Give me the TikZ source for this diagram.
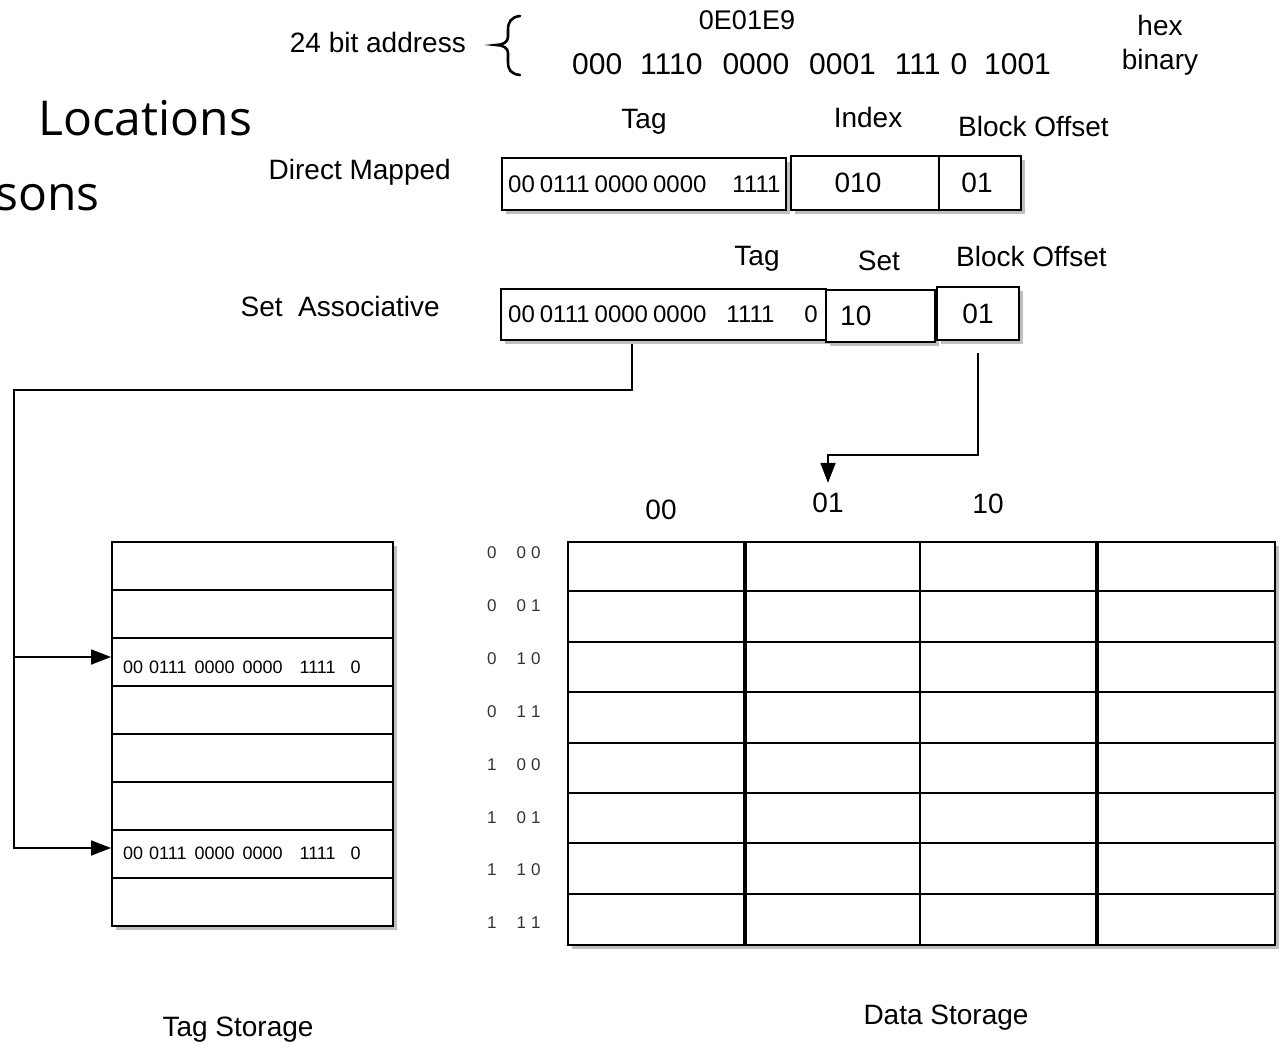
\documentclass[tikz,border=0pt]{standalone}
\usepackage{fontspec}
\setmainfont{Liberation Sans}
\newfontfamily\comicf{Open Sans}
\usetikzlibrary{arrows.meta,shadows,calc}
\newcommand\fs[1]{\fontsize{#1}{#1}\selectfont}
\begin{document}
\begin{tikzpicture}[x=1pt,y=-1pt,
 lbl/.style={inner sep=0pt, font=\fs{28}},
 bin/.style={inner sep=0pt, font=\fs{30}},
 small/.style={inner sep=0pt, font=\fs{24}, anchor=west},
 tiny/.style={inner sep=0pt, font=\fs{18}, anchor=west},
 rowlbl/.style={inner sep=0pt, font=\fs{17}, anchor=west, text=black!80},
 box/.style={draw, line width=2pt, inner sep=0pt, fill=white,
   drop shadow={shadow xshift=4pt, shadow yshift=-4pt, opacity=0.25, fill=black}},
 cell/.style={draw, line width=2pt, inner sep=0pt},
 conn/.style={line width=1.8pt},
 tip/.style={-{Triangle[length=20pt,width=15pt]}}
]
\useasboundingbox (0,0) rectangle (1282,1048);

% left slide text
\node[inner sep=0pt, anchor=west, font=\comicf\fs{48}] (loc) at (38,118) {Locations};
\node[inner sep=0pt, anchor=east, font=\comicf\fs{48}] (sons) at (100,198) {sons};

% address header
\node[lbl, anchor=east] (addr) at (466,42) {24 bit address};
\draw[line width=2.6pt, line cap=round]
  (520,16) .. controls (511,17) and (508,22) .. (508,30) -- (508,37)
  .. controls (508,42) and (503,45) .. (496,45)
  .. controls (503,45) and (508,48) .. (508,53) -- (508,62)
  .. controls (508,70) and (511,74) .. (520,75);
\node[inner sep=0pt, font=\fs{27}] (hexval) at (747,20) {0E01E9};
\node[bin, anchor=west] (binval) at (572,64) {000\hspace{18pt}1110\hspace{20pt}0000\hspace{20pt}0001\hspace{19pt}111\hspace{10pt}0\hspace{17pt}1001};
\node[lbl] (hex) at (1160,25) {hex};
\node[lbl] (binary) at (1160,62) {binary};

% direct mapped
\node[lbl] (dmtaglbl) at (644,122) {Tag};
\node[lbl] (dmidxlbl) at (868,117) {Index};
\node[lbl, anchor=west] (dmofflbl) at (958,126) {Block Offset};
\node[lbl, anchor=east] (dmlbl) at (451,172) {Direct Mapped};
\node[box, minimum width=284, minimum height=52] (dmtag) at (644,184) {};
\node[box, minimum width=148, minimum height=54, font=\fs{28}] (dmidx) at (865,183) {\hspace{-14pt}010};
\node[box, minimum width=82, minimum height=54, font=\fs{28}] (dmoff) at (980,183) {\hspace{-6pt}01};
\node[small] (dmtagtxt) at (508,184) {00\hspace{5pt}0111\hspace{5pt}0000\hspace{5pt}0000\hspace{26pt}1111};

% set associative
\node[lbl] (satagl) at (757,259) {Tag};
\node[lbl] (sasetl) at (879,261) {Set};
\node[lbl, anchor=west] (saoffl) at (956,256) {Block Offset};
\node[lbl, anchor=east] (salbl) at (440,306) {Set\ \ Associative};
\node[box, minimum width=325, minimum height=51] (satag) at (663.5,314.5) {};
\node[box, minimum width=109, minimum height=52] (saset) at (880.5,316) {};
\node[box, minimum width=82, minimum height=53, font=\fs{28}] (saoff) at (978,313.5) {01};
\node[small] (satagtxt) at (508,314) {00\hspace{5pt}0111\hspace{5pt}0000\hspace{5pt}0000\hspace{20pt}1111\hspace{30pt}0};
\node[lbl, anchor=west] (sasettxt) at (840,316) {10};

% tag storage
\node[box, minimum width=281, minimum height=384] (tagst) at (252.5,734) {};
\foreach \i in {1,...,8} {
  \node[cell, minimum width=281, minimum height=48] (ts\i) at (252.5,{566+48*(\i-1)}) {};
}
\node[tiny] (ts3txt) at (123,667) {00\hspace{6pt}0111\hspace{8pt}0000\hspace{8pt}0000\hspace{17pt}1111\hspace{15pt}0};
\node[tiny] (ts7txt) at (123,853) {00\hspace{6pt}0111\hspace{8pt}0000\hspace{8pt}0000\hspace{17pt}1111\hspace{15pt}0};
\node[lbl] (tslbl) at (238,1030) {Tag Storage};

% data storage
\node[box, minimum width=707, minimum height=403] (data) at (921.5,743.5) {};
\foreach \k in {1,...,7} {
  \draw[line width=2pt] (data.north west) ++(0,{50.375*\k}) -- ++(707,0);
}
\draw[line width=3.5pt] (745,542) -- (745,945);
\draw[line width=2pt] (920,542) -- (920,945);
\draw[line width=3.5pt] (1097,542) -- (1097,945);
\node[lbl] (h00) at (661,510) {00};
\node[lbl] (h01) at (828,503) {01};
\node[lbl] (h10) at (988,504) {10};
\node[lbl] (dslbl) at (946,1018) {Data Storage};
\node[rowlbl] (r1) at (487,553) {0\hspace{20pt}0\hspace{5pt}0};
\node[rowlbl] (r2) at (487,606) {0\hspace{20pt}0\hspace{5pt}1};
\node[rowlbl] (r3) at (487,659) {0\hspace{20pt}1\hspace{5pt}0};
\node[rowlbl] (r4) at (487,712) {0\hspace{20pt}1\hspace{5pt}1};
\node[rowlbl] (r5) at (487,765) {1\hspace{20pt}0\hspace{5pt}0};
\node[rowlbl] (r6) at (487,818) {1\hspace{20pt}0\hspace{5pt}1};
\node[rowlbl] (r7) at (487,870) {1\hspace{20pt}1\hspace{5pt}0};
\node[rowlbl] (r8) at (487,923) {1\hspace{20pt}1\hspace{5pt}1};

% connectors
\coordinate (k1) at (14,390);
\coordinate (k2) at (978,455);
\draw[conn,tip] ($(satag.south west)+(132,3)$) |- (k1) |- ($(ts7.west)+(0,-6)$);
\draw[conn,tip] (k1 |- ts3.west) ++(0,-5) -- ($(ts3.west)+(0,-5)$);
\draw[conn,tip] ($(saoff.south)+(0,12)$) -- (k2) -| ($(h01.north)+(0,-10)$);
\end{tikzpicture}
\end{document}
